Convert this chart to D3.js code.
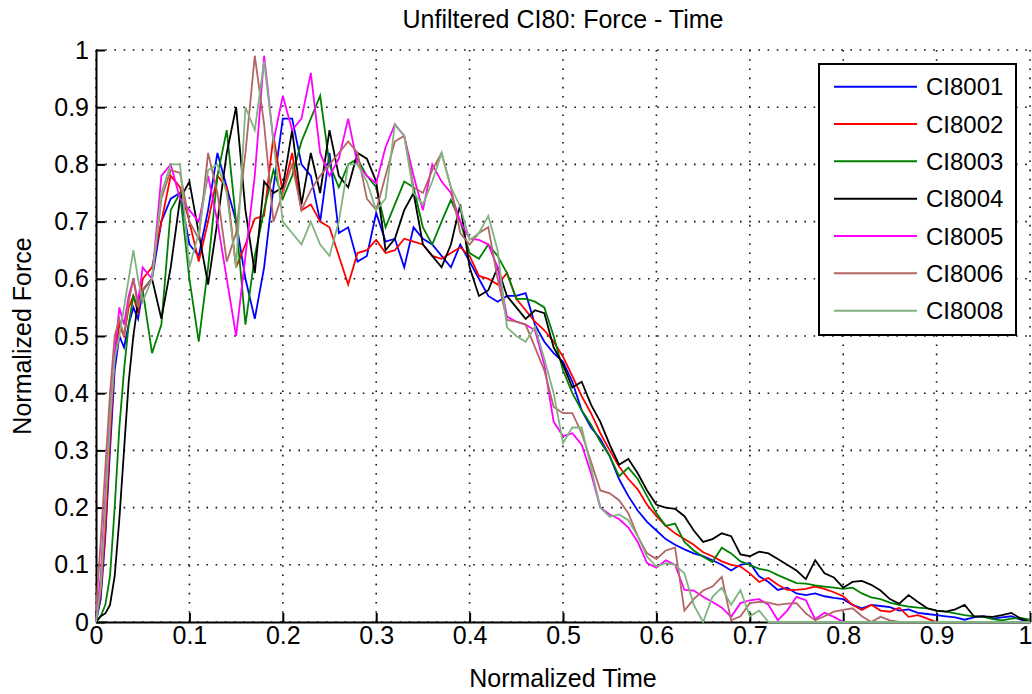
<!DOCTYPE html>
<html>
<head>
<meta charset="utf-8">
<script src="https://cdnjs.cloudflare.com/ajax/libs/d3/7.8.5/d3.min.js"></script>
<style>
body { margin: 0; background: #fff; }
svg text { font-family: "Liberation Sans", Arial, sans-serif; fill: #000; }
.grid line { stroke: #111; stroke-width: 1.6; stroke-dasharray: 1.6, 7.6; }
.axis path, .axis line { stroke: #000; stroke-width: 2; }
.trace { fill: none; stroke-width: 1.8; stroke-linejoin: miter; }
</style>
</head>
<body>
<div id="chartDiv"></div>
<script>
// normalized time samples (finer at the start where the curves rise)
var time = [0, 0.005, 0.01, 0.015, 0.02, 0.025, 0.03, 0.035, 0.04, 0.045, 0.05,
  0.06, 0.07, 0.08, 0.09, 0.10, 0.11, 0.12, 0.13, 0.14, 0.15,
  0.16, 0.17, 0.18, 0.19, 0.20, 0.21, 0.22, 0.23, 0.24, 0.25,
  0.26, 0.27, 0.28, 0.29, 0.30, 0.31, 0.32, 0.33, 0.34, 0.35,
  0.36, 0.37, 0.38, 0.39, 0.40, 0.41, 0.42, 0.43, 0.44, 0.45,
  0.46, 0.47, 0.48, 0.49, 0.50, 0.51, 0.52, 0.53, 0.54, 0.55,
  0.56, 0.57, 0.58, 0.59, 0.60, 0.61, 0.62, 0.63, 0.64, 0.65,
  0.66, 0.67, 0.68, 0.69, 0.70, 0.71, 0.72, 0.73, 0.74, 0.75,
  0.76, 0.77, 0.78, 0.79, 0.80, 0.81, 0.82, 0.83, 0.84, 0.85,
  0.86, 0.87, 0.88, 0.89, 0.90, 0.91, 0.92, 0.93, 0.94, 0.95,
  0.96, 0.97, 0.98, 0.99, 1.00];

var ci8001 = [0, 0.04, 0.15, 0.30, 0.44, 0.50, 0.48, 0.52, 0.55, 0.53, 0.58,
  0.60, 0.70, 0.74, 0.75, 0.66, 0.64, 0.72, 0.82, 0.76, 0.70,
  0.60, 0.53, 0.62, 0.76, 0.88, 0.88, 0.80, 0.78, 0.70, 0.82,
  0.68, 0.69, 0.63, 0.64, 0.715, 0.665, 0.67, 0.62, 0.69, 0.67,
  0.66, 0.64, 0.62, 0.66, 0.63, 0.60, 0.57, 0.56, 0.57, 0.57,
  0.575, 0.52, 0.49, 0.47, 0.455, 0.42, 0.37, 0.34, 0.32, 0.29,
  0.25, 0.22, 0.195, 0.175, 0.16, 0.145, 0.135, 0.127, 0.12, 0.115,
  0.108, 0.10, 0.09, 0.10, 0.103, 0.08, 0.07, 0.056, 0.06, 0.05,
  0.047, 0.05, 0.045, 0.042, 0.04, 0.03, 0.024, 0.03, 0.028, 0.026,
  0.02, 0.022, 0.016, 0.014, 0.012, 0.01, 0.008, 0.004, 0.008, 0.01,
  0.006, 0.008, 0.01, 0.004, 0];

var ci8002 = [0, 0.05, 0.16, 0.32, 0.46, 0.52, 0.50, 0.55, 0.57, 0.54, 0.60,
  0.62, 0.70, 0.78, 0.76, 0.70, 0.63, 0.70, 0.78, 0.76, 0.62,
  0.66, 0.705, 0.71, 0.85, 0.75, 0.82, 0.72, 0.73, 0.70, 0.69,
  0.64, 0.59, 0.645, 0.65, 0.668, 0.645, 0.65, 0.67, 0.665, 0.66,
  0.64, 0.635, 0.645, 0.655, 0.64, 0.605, 0.60, 0.59, 0.61, 0.565,
  0.545, 0.525, 0.51, 0.49, 0.464, 0.43, 0.395, 0.365, 0.33, 0.30,
  0.272, 0.25, 0.232, 0.205, 0.185, 0.168, 0.155, 0.145, 0.135, 0.122,
  0.115, 0.106, 0.10, 0.097, 0.085, 0.07, 0.077, 0.065, 0.056, 0.056,
  0.058, 0.062, 0.058, 0.052, 0.045, 0.03, 0.021, 0.03, 0.02, 0.018,
  0.025, 0.009, 0.012, 0.006, 0, 0, 0, 0, 0, 0,
  0, 0, 0, 0, 0];

var ci8003 = [0, 0.01, 0.03, 0.08, 0.20, 0.34, 0.44, 0.52, 0.57, 0.55, 0.58,
  0.47, 0.52, 0.72, 0.75, 0.60, 0.49, 0.62, 0.78, 0.86, 0.70,
  0.52, 0.64, 0.72, 0.79, 0.74, 0.78, 0.84, 0.88, 0.92, 0.80,
  0.76, 0.80, 0.81, 0.78, 0.76, 0.69, 0.73, 0.77, 0.76, 0.69,
  0.66, 0.70, 0.738, 0.70, 0.645, 0.635, 0.66, 0.64, 0.61, 0.565,
  0.565, 0.56, 0.55, 0.50, 0.44, 0.40, 0.37, 0.345, 0.315, 0.29,
  0.255, 0.27, 0.25, 0.22, 0.19, 0.168, 0.172, 0.14, 0.125, 0.114,
  0.105, 0.13, 0.12, 0.106, 0.10, 0.093, 0.09, 0.082, 0.075, 0.068,
  0.067, 0.064, 0.062, 0.06, 0.058, 0.06, 0.05, 0.043, 0.04, 0.034,
  0.03, 0.027, 0.025, 0.024, 0.02, 0.018, 0.015, 0.012, 0.01, 0.009,
  0.005, 0.003, 0.006, 0.007, 0.004];

var ci8004 = [0, 0.01, 0.015, 0.03, 0.08, 0.18, 0.30, 0.42, 0.50, 0.56, 0.58,
  0.60, 0.53, 0.62, 0.74, 0.77, 0.68, 0.59, 0.70, 0.82, 0.90,
  0.72, 0.61, 0.77, 0.75, 0.76, 0.86, 0.73, 0.82, 0.75, 0.86,
  0.78, 0.76, 0.82, 0.81, 0.77, 0.65, 0.67, 0.72, 0.75, 0.66,
  0.64, 0.62, 0.66, 0.73, 0.62, 0.57, 0.58, 0.62, 0.57, 0.55,
  0.53, 0.545, 0.54, 0.48, 0.45, 0.41, 0.42, 0.38, 0.35, 0.31,
  0.275, 0.285, 0.26, 0.23, 0.205, 0.20, 0.198, 0.185, 0.16, 0.14,
  0.145, 0.155, 0.15, 0.118, 0.115, 0.123, 0.12, 0.11, 0.10, 0.09,
  0.075, 0.108, 0.085, 0.078, 0.06, 0.07, 0.072, 0.065, 0.055, 0.04,
  0.032, 0.047, 0.035, 0.024, 0.02, 0.018, 0.022, 0.03, 0.01, 0.01,
  0.009, 0.012, 0.016, 0.006, 0];

var ci8005 = [0, 0.08, 0.22, 0.36, 0.47, 0.55, 0.52, 0.57, 0.60, 0.56, 0.62,
  0.60, 0.78, 0.80, 0.74, 0.72, 0.70, 0.78, 0.70, 0.60, 0.50,
  0.64, 0.78, 0.99, 0.84, 0.92, 0.86, 0.88, 0.96, 0.82, 0.78,
  0.81, 0.88, 0.80, 0.78, 0.767, 0.83, 0.87, 0.85, 0.78, 0.72,
  0.80, 0.77, 0.75, 0.70, 0.67, 0.668, 0.66, 0.62, 0.534, 0.525,
  0.52, 0.51, 0.45, 0.35, 0.325, 0.33, 0.31, 0.26, 0.20, 0.188,
  0.18, 0.165, 0.14, 0.103, 0.095, 0.108, 0.10, 0.056, 0.055, 0.044,
  0.035, 0.025, 0.009, 0.033, 0.038, 0.04, 0.03, 0.003, 0.02, 0.044,
  0.038, 0.005, 0.016, 0.009, 0, 0, 0, 0, 0, 0,
  0, 0, 0, 0, 0, 0, 0, 0, 0, 0,
  0, 0, 0, 0, 0];

var ci8006 = [0.02, 0.14, 0.27, 0.40, 0.50, 0.53, 0.50, 0.56, 0.60, 0.55, 0.58,
  0.60, 0.74, 0.79, 0.785, 0.70, 0.67, 0.82, 0.75, 0.63, 0.68,
  0.82, 0.99, 0.87, 0.70, 0.75, 0.80, 0.72, 0.755, 0.78, 0.80,
  0.82, 0.84, 0.82, 0.74, 0.72, 0.78, 0.84, 0.85, 0.76, 0.75,
  0.79, 0.82, 0.76, 0.68, 0.66, 0.68, 0.69, 0.60, 0.528, 0.525,
  0.52, 0.48, 0.44, 0.376, 0.365, 0.365, 0.33, 0.28, 0.23, 0.225,
  0.213, 0.19, 0.15, 0.12, 0.11, 0.125, 0.13, 0.02, 0.04, 0.055,
  0.062, 0.079, 0.003, 0.01, 0.033, 0.035, 0.034, 0.03, 0.032, 0.033,
  0.015, 0.003, 0.01, 0.018, 0.021, 0.024, 0.01, 0, 0.009, 0.003,
  0, 0, 0, 0, 0, 0, 0, 0, 0, 0,
  0, 0, 0, 0, 0];

var ci8008 = [0, 0.06, 0.20, 0.35, 0.46, 0.50, 0.55, 0.60, 0.65, 0.60, 0.56,
  0.60, 0.75, 0.80, 0.80, 0.62, 0.68, 0.79, 0.80, 0.75, 0.62,
  0.90, 0.86, 0.98, 0.84, 0.70, 0.68, 0.66, 0.70, 0.66, 0.64,
  0.70, 0.80, 0.80, 0.77, 0.72, 0.74, 0.87, 0.85, 0.75, 0.73,
  0.77, 0.82, 0.76, 0.726, 0.668, 0.68, 0.71, 0.65, 0.515, 0.50,
  0.49, 0.516, 0.46, 0.40, 0.313, 0.34, 0.34, 0.27, 0.20, 0.184,
  0.188, 0.178, 0.15, 0.114, 0.097, 0.103, 0.10, 0.085, 0.03, 0,
  0.044, 0.06, 0.03, 0.056, 0.01, 0.02, 0, 0, 0, 0,
  0, 0, 0, 0, 0, 0, 0, 0, 0, 0,
  0, 0, 0, 0, 0, 0, 0, 0, 0, 0,
  0, 0, 0, 0, 0];

var seriesNames = ["CI8001", "CI8002", "CI8003", "CI8004", "CI8005", "CI8006", "CI8008"];
var seriesValues = [ci8001, ci8002, ci8003, ci8004, ci8005, ci8006, ci8008];
var seriesColors = ["#0000ff", "#ff0000", "#008000", "#000000", "#ff00ff", "#b36666", "#80b380"];

var xTicks = [0, 0.1, 0.2, 0.3, 0.4, 0.5, 0.6, 0.7, 0.8, 0.9, 1];
var yTicks = [0, 0.1, 0.2, 0.3, 0.4, 0.5, 0.6, 0.7, 0.8, 0.9, 1];

seriesValues.forEach(function(s, i) {
  if (s.length != time.length) throw new Error(seriesNames[i] + " has " + s.length + " values, expected " + time.length);
});

var svg = d3.select("#chartDiv").append("svg")
    .attr("width", 1032)
    .attr("height", 694),
    margin = {top: 50, right: 2, bottom: 72, left: 96};

var width = +svg.attr("width") - margin.left - margin.right,
    height = +svg.attr("height") - margin.top - margin.bottom,
    chart = svg.append("g").attr("transform", "translate(" + margin.left + "," + margin.top + ")");

var x_scale = d3.scaleLinear().domain([0, 1]).range([0, width]);
var y_scale = d3.scaleLinear().domain([0, 1]).range([height, 0]);

// dotted grid
chart.append("g").attr("class", "grid").selectAll("line").data(xTicks).enter()
    .append("line")
    .attr("x1", function(d) { return x_scale(d); })
    .attr("x2", function(d) { return x_scale(d); })
    .attr("y1", height).attr("y2", 0);
chart.append("g").attr("class", "grid").selectAll("line").data(yTicks).enter()
    .append("line")
    .attr("y1", function(d) { return y_scale(d); })
    .attr("y2", function(d) { return y_scale(d); })
    .attr("x1", 0).attr("x2", width);

var fmt = function(d) { return d3.format("~g")(d); };

var xAxis = d3.axisBottom(x_scale).tickValues(xTicks).tickFormat(fmt)
    .tickSizeInner(-9).tickSizeOuter(0).tickPadding(4);
var yAxis = d3.axisLeft(y_scale).tickValues(yTicks).tickFormat(fmt)
    .tickSizeInner(-9).tickSizeOuter(0).tickPadding(7);

var xGroup = chart.append("g").attr("class", "axis")
    .attr("transform", "translate(0," + height + ")").call(xAxis);
var yGroup = chart.append("g").attr("class", "axis").call(yAxis);
chart.selectAll(".axis text").style("font-size", "25px");
// last x label sits on the page edge: pull it inside
xGroup.selectAll(".tick text").filter(function(d) { return d == 1; })
    .attr("text-anchor", "end").attr("dx", 2);

// traces
chart.append("clipPath").attr("id", "plotClip")
  .append("rect").attr("x", -1).attr("y", -2).attr("width", width + 2).attr("height", height + 3);

var line = d3.line()
    .x(function(d, i) { return x_scale(time[i]); })
    .y(function(d) { return y_scale(d); });

chart.append("g").attr("clip-path", "url(#plotClip)")
  .selectAll(".trace").data(seriesValues).enter()
  .append("path").attr("class", "trace")
  .attr("stroke", function(d, i) { return seriesColors[i]; })
  .attr("d", line);

// titles
svg.append("text").attr("x", 563).attr("y", 28).attr("text-anchor", "middle")
    .style("font-size", "25px").text("Unfiltered CI80: Force - Time");
svg.append("text").attr("x", margin.left + width / 2).attr("y", 687).attr("text-anchor", "middle")
    .style("font-size", "25px").text("Normalized Time");
svg.append("text").attr("transform", "translate(31," + (margin.top + height / 2) + ") rotate(-90)")
    .attr("text-anchor", "middle").style("font-size", "25px").text("Normalized Force");

// legend
var legend = svg.append("g").attr("transform", "translate(819,64)");
legend.append("rect").attr("width", 197).attr("height", 271)
    .attr("fill", "#fff").attr("stroke", "#000").attr("stroke-width", 2);
var legendY = d3.scaleLinear().domain([0, seriesNames.length - 1]).range([22.7, 246.7]);
var items = legend.selectAll(".item").data(seriesNames).enter().append("g").attr("class", "item")
    .attr("transform", function(d, i) { return "translate(0," + legendY(i) + ")"; });
items.append("line").attr("x1", 15).attr("x2", 98)
    .attr("stroke", function(d, i) { return seriesColors[i]; }).attr("stroke-width", 2);
items.append("text").attr("x", 107).attr("dy", "0.36em").style("font-size", "24px")
    .text(function(d) { return d; });
</script>
</body>
</html>
